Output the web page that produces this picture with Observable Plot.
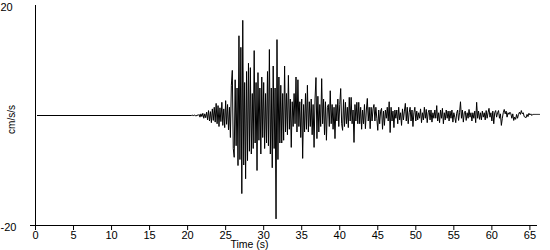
<!DOCTYPE html>
<html>
<head>
<meta charset="utf-8">
<script src="https://cdn.jsdelivr.net/npm/d3@7"></script>
<script src="https://cdn.jsdelivr.net/npm/@observablehq/plot@0.6"></script>
<style>
  html, body { margin: 0; padding: 0; background: #fff; }
  #chart svg { display: block; }
</style>
</head>
<body>
<div id="chart"></div>
<script>
// Recording: quiet until onset, then samples every 0.125 s (cm/s/s)
const quietStart = 0.25;
const recordStart = 20.5;
const sampleStep = 0.125;
const accel = [
  0,0.1,-0.1,0.1,0,-0.1,0.1,0,
  0.2,-0.3,0.3,-0.2,0.4,-0.5,0.3,-0.4,
  0.6,-0.8,0.9,-1.0,0.7,-1.3,1.2,-0.9,
  1.5,-1.2,2.2,-1.5,1.8,-2.0,1.4,-1.1,
  2.4,-1.8,1.2,-2.2,2.7,-1.6,2.0,-2.6,
  1.5,-4.0,5.5,8.2,-6.0,-7.6,6.5,-5.5,
  5.0,-9.1,14.5,-8.0,12.4,-14.2,17.3,-9.0,
  6.0,-11.5,8.0,-8.2,9.5,-6.5,8.7,-7.0,
  4.0,-6.0,11.8,-5.0,6.0,-10.0,7.8,-4.5,
  5.0,-7.0,7.0,-4.0,6.0,-6.0,4.0,-5.0,
  8.0,-5.5,12.0,-7.0,5.0,-9.5,9.0,-6.0,
  5.0,-18.8,13.8,-8.0,7.0,-5.0,5.5,-5.0,
  4.0,-4.5,9.0,-3.0,4.0,-3.5,7.3,-2.5,
  3.0,-5.8,2.5,-2.0,4.0,-1.5,7.0,-3.0,
  6.5,-2.0,2.5,-4.0,3.0,-7.8,2.0,-3.0,
  4.0,-2.5,5.5,-3.0,2.5,-2.0,3.0,-3.5,
  2.0,-5.8,3.0,6.9,-4.2,3.5,-3.0,2.0,
  -2.0,6.7,-1.5,3.0,-3.5,2.5,-4.5,1.5,
  2.0,-2.0,4.5,-1.5,2.0,-2.5,1.5,-4.2,
  2.0,-1.0,3.0,-2.0,2.0,4.9,-1.5,-2.7,
  2.9,-2.0,2.4,-1.5,1.5,-2.2,3.3,-1.0,
  3.3,-1.5,1.0,-4.9,2.0,-1.0,2.4,-1.5,
  2.4,-1.5,1.5,-2.5,1.0,-1.5,2.0,-2.4,
  1.0,3.1,-1.0,1.5,-2.4,1.5,-1.0,1.2,
  2.0,-1.0,1.5,-0.5,-2.7,1.0,-1.5,0.8,
  1.3,-2.5,0.8,-1.8,1.0,-0.5,1.5,-1.0,
  2.5,-3.1,1.5,-1.0,0.8,-2.2,1.0,-0.5,
  1.0,-1.5,1.5,-0.8,0.5,-1.8,1.2,-0.8,
  0.8,2.2,-1.0,1.5,-1.5,0.5,1.5,-1.0,
  1.0,-2.0,0.5,1.5,-1.0,0.8,-0.8,0.5,
  -0.5,1.2,-1.3,0.5,-0.8,1.5,-0.5,1.1,
  -1.3,0.5,1.0,-0.8,1.0,-1.2,0.5,-0.5,
  1.0,-0.5,1.8,-1.0,0.5,-1.3,1.0,-0.5,
  1.3,-1.5,0.5,-0.8,1.0,-0.5,0.8,-1.0,
  0.8,-0.5,1.0,-1.2,0.5,-0.3,-1.3,0.4,
  1.0,-0.9,0.5,2.5,-0.5,1.0,-1.2,0.5,
  0.8,-0.9,0.5,-0.5,1.1,-0.3,0.5,-1.0,
  0.5,-0.5,0.8,-1.3,2.4,-0.5,0.8,-0.7,
  0.5,-0.8,0.8,-0.3,0.5,-0.8,0.9,-0.5,
  0.5,1.3,-0.3,0.5,-1.0,0.8,-1.5,0.5,
  0.9,-0.3,0.5,0.9,-0.5,0.3,-1.8,-0.5,
  0.5,1.1,0.3,0.8,-0.3,0.5,0.2,0.6,
  0.3,-0.5,0.3,-0.9,-0.3,-0.7,0.2,-0.5,
  0.2,0.6,0.2,0.9,0.3,0.5,-0.2,-0.3,
  -0.4,0.2,-0.2,0.4,0.1,0.3,0.0,0.2,
  0.2,0.2,0.2,0.2,0.2,0.2,0.2
];
const xTicks = [0,5,10,15,20,25,30,35,40,45,50,55,60,65];
const yTickLabels = [20, -20];
const xLabel = "Time (s)";
const yLabel = "cm/s/s";

const data = [{t: quietStart, v: 0}].concat(
  accel.map((v, i) => ({t: recordStart + i * sampleStep, v}))
);

const font = "'Liberation Sans', Arial, sans-serif";

const chart = Plot.plot({
  width: 550,
  height: 250,
  marginLeft: 35,
  marginRight: 13,
  marginTop: 5,
  marginBottom: 25,
  style: {fontFamily: font, fontSize: "11px", color: "#000", background: "#fff", overflow: "visible"},
  x: {domain: [0, 66]},
  y: {domain: [-20, 20]},
  marks: [
    Plot.ruleX([0], {stroke: "#000", strokeWidth: 1}),
    Plot.ruleY([-20], {stroke: "#000", strokeWidth: 1}),
    Plot.axisX({ticks: xTicks, tickSize: 5, tickPadding: 1, label: null, stroke: "#000", strokeOpacity: 1, fill: "#000", tickFormat: d => String(d)}),
    Plot.axisY({ticks: [-20], tickSize: 5, label: null, text: null, stroke: "#000", strokeOpacity: 1}),
    Plot.axisY({ticks: yTickLabels, tickSize: 0, label: null, textAnchor: "start", dx: -26, dy: 1.5, fill: "#000", tickFormat: d => String(d)}),
    Plot.line(data, {x: "t", y: "v", stroke: "#000", strokeWidth: 1}),
    Plot.text([xLabel], {frameAnchor: "bottom", textAnchor: "middle", lineAnchor: "middle", dx: -37, dy: 19.5, fill: "#000", fontSize: 10.5}),
    Plot.text([yLabel], {frameAnchor: "left", textAnchor: "middle", lineAnchor: "middle", rotate: -90, dx: -23.5, dy: 4, fill: "#000", fontSize: 10})
  ]
});
document.getElementById("chart").appendChild(chart);
</script>
</body>
</html>
